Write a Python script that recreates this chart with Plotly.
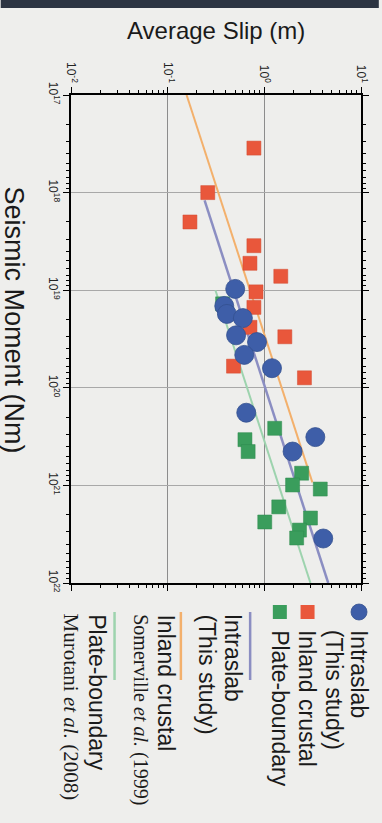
import plotly.graph_objects as go

# ---------------- data ----------------
slip_ticks = [0.01, 0.1, 1, 10]
slip_labels = ["10<sup>-2</sup>", "10<sup>-1</sup>", "10<sup>0</sup>", "10<sup>1</sup>"]
moment_ticks = [1e17, 1e18, 1e19, 1e20, 1e21, 1e22]
moment_labels = ["10<sup>17</sup>", "10<sup>18</sup>", "10<sup>19</sup>",
                 "10<sup>20</sup>", "10<sup>21</sup>", "10<sup>22</sup>"]

intraslab_slip = [0.50, 0.385, 0.41, 0.60, 0.51, 0.84, 0.62, 1.20, 0.65, 3.37, 1.96, 4.07]
intraslab_moment = [9.7e18, 1.45e19, 1.75e19, 1.93e19, 2.9e19, 3.4e19, 4.6e19, 6.3e19,
                    1.8e20, 3.2e20, 4.5e20, 3.5e21]

inland_slip = [0.78, 0.26, 0.17, 0.78, 0.71, 1.48, 0.82, 0.78, 0.71, 1.63, 0.48, 2.6]
inland_moment = [3.5e17, 1.0e18, 2.0e18, 3.5e18, 5.3e18, 7.2e18, 1.04e19, 1.5e19,
                 2.4e19, 3.0e19, 6.0e19, 7.9e19]

plate_slip = [0.37, 1.28, 0.63, 0.68, 2.43, 1.96, 3.79, 1.41, 1.01, 3.0, 2.31, 2.16]
plate_moment = [1.38e19, 2.6e20, 3.4e20, 4.5e20, 7.5e20, 9.9e20, 1.09e21, 1.66e21,
                2.37e21, 2.16e21, 2.87e21, 3.46e21]

# scaling-relation lines (end points)
intraslab_line_slip = [0.241, 4.58]
intraslab_line_moment = [1.2e18, 1e22]
inland_line_slip = [0.157, 3.14]
inland_line_moment = [1e17, 9.3e20]
plate_line_slip = [0.312, 3.0]
plate_line_moment = [1e19, 1e22]

# ---------------- styles ----------------
BLUE = "#3e5ea8"
RED = "#e9573b"
GREEN = "#3a9d5c"
ORANGE = "#f3b06c"
LAV = "#8b8ec2"
LGREEN = "#9dd3ae"
BG = "#eeeeec"

W, H = 382, 823
L, R, T, B = 71, 364, 95, 583  # plot area in pixels


def px(x):
    return (x - L) / (R - L)


def py(y):
    return (B - y) / (B - T)


fig = go.Figure()

fig.add_trace(go.Scatter(x=inland_line_slip, y=inland_line_moment, mode="lines",
                         line=dict(color=ORANGE, width=2), showlegend=False))
fig.add_trace(go.Scatter(x=intraslab_line_slip, y=intraslab_line_moment, mode="lines",
                         line=dict(color=LAV, width=2.5), showlegend=False))
fig.add_trace(go.Scatter(x=plate_line_slip, y=plate_line_moment, mode="lines",
                         line=dict(color=LGREEN, width=2), showlegend=False))

fig.add_trace(go.Scatter(x=inland_slip, y=inland_moment, mode="markers",
                         marker=dict(symbol="square", size=14, color=RED,
                                     line=dict(color="#d24a30", width=0.5)),
                         showlegend=False))
fig.add_trace(go.Scatter(x=plate_slip, y=plate_moment, mode="markers",
                         marker=dict(symbol="square", size=14, color=GREEN,
                                     line=dict(color="#2f8a4e", width=0.5)),
                         showlegend=False))
fig.add_trace(go.Scatter(x=intraslab_slip, y=intraslab_moment, mode="markers",
                         marker=dict(symbol="circle", size=19, color=BLUE,
                                     line=dict(color="#33508f", width=0.8)),
                         showlegend=False))

minor_slip = [m * 10.0 ** e for e in range(-2, 1) for m in range(2, 10)]
minor_moment = [m * 10.0 ** e for e in range(17, 22) for m in range(2, 10)]

axis_common = dict(type="log", showline=True, linewidth=2, linecolor="black",
                   mirror="ticks", ticks="outside", ticklen=6, tickwidth=1.2,
                   tickcolor="black", tickangle=90, zeroline=False,
                   tickfont=dict(family="Liberation Sans, Arial", size=12, color="#222"))

fig.update_xaxes(range=[-2, 1], side="top", tickmode="array", tickvals=slip_ticks,
                 ticktext=slip_labels, showgrid=True, gridcolor="#8c8c8c", gridwidth=1,
                 minor=dict(tickmode="array", tickvals=minor_slip, ticks="outside",
                            ticklen=3, tickcolor="black", showgrid=False),
                 **axis_common)
fig.update_yaxes(range=[22, 17], tickmode="array", tickvals=moment_ticks,
                 ticktext=moment_labels, showgrid=True, gridcolor="#a8a8a8", gridwidth=1,
                 minor=dict(tickmode="array", tickvals=minor_moment, ticks="outside",
                            ticklen=3, tickcolor="black", showgrid=False),
                 **axis_common)

shapes = [
    dict(type="rect", xref="paper", yref="paper", x0=px(0), x1=px(W), y0=py(0), y1=py(8),
         fillcolor="#2c3442", line=dict(width=0), layer="below"),
]

# legend glyphs
shapes.append(dict(type="circle", xref="paper", yref="paper", xsizemode="pixel",
                   ysizemode="pixel", xanchor=px(362), yanchor=py(612),
                   x0=-8, x1=8, y0=-8, y1=8, fillcolor=BLUE, line=dict(color="#33508f", width=0.8)))
shapes.append(dict(type="rect", xref="paper", yref="paper", xsizemode="pixel",
                   ysizemode="pixel", xanchor=px(310), yanchor=py(612),
                   x0=-7, x1=7, y0=-7, y1=7, fillcolor=RED, line=dict(width=0)))
shapes.append(dict(type="rect", xref="paper", yref="paper", xsizemode="pixel",
                   ysizemode="pixel", xanchor=px(282), yanchor=py(612),
                   x0=-7, x1=7, y0=-7, y1=7, fillcolor=GREEN, line=dict(width=0)))
for xx, col in [(252, LAV), (182, ORANGE), (115, LGREEN)]:
    shapes.append(dict(type="line", xref="paper", yref="paper", x0=px(xx), x1=px(xx),
                       y0=py(612), y1=py(680), line=dict(color=col, width=2.5)))

SANS = "Liberation Sans, Arial"
SERIF = "Liberation Serif, Times New Roman"


def rot_text(x, y, text, size, family=SANS):
    return dict(xref="paper", yref="paper", x=px(x), y=py(y), text=text, showarrow=False,
                textangle=90, xanchor="center", yanchor="top",
                font=dict(family=family, size=size, color="#1a1a1a"))


annotations = [
    dict(xref="paper", yref="paper", x=px(217), y=py(30), text="Average Slip (m)",
         showarrow=False, xanchor="center", yanchor="middle",
         font=dict(family=SANS, size=24, color="#1a1a1a")),
    dict(xref="paper", yref="paper", x=px(13), y=py(320), text="Seismic Moment (Nm)",
         showarrow=False, textangle=90, xanchor="center", yanchor="middle",
         font=dict(family=SANS, size=27, color="#1a1a1a")),
    rot_text(362, 628, "Intraslab", 23),
    rot_text(337, 628, "(This study)", 23),
    rot_text(310, 628, "Inland crustal", 23),
    rot_text(282, 628, "Plate-boundary", 23),
    rot_text(235, 612, "Intraslab", 23),
    rot_text(208, 612, "(This study)", 23),
    rot_text(167, 612, "Inland crustal", 23),
    rot_text(141, 612, "Somerville <i>et al.</i> (1999)", 20, SERIF),
    rot_text(97, 612, "Plate-boundary", 23),
    rot_text(72, 612, "Murotani <i>et al.</i> (2008)", 21, SERIF),
]

fig.update_layout(width=W, height=H, margin=dict(l=L, r=W - R, t=T, b=H - B, pad=0),
                  paper_bgcolor=BG, plot_bgcolor=BG, showlegend=False,
                  shapes=shapes, annotations=annotations)

fig.write_html("out.html")
